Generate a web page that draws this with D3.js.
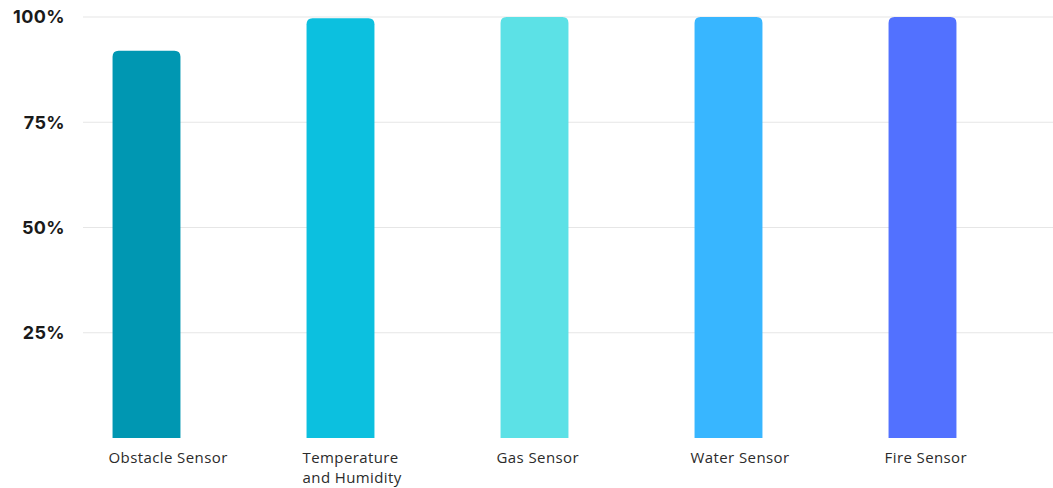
<!DOCTYPE html>
<html>
<head>
<meta charset="utf-8">
<script src="https://cdn.jsdelivr.net/npm/d3@7"></script>
<style>
  html, body { margin: 0; padding: 0; background: #fff; }
  svg { display: block; }
</style>
</head>
<body>
<svg id="chart" width="1053" height="488"></svg>
<script>
// data
const categories = ['Obstacle Sensor', 'Temperature\nand Humidity', 'Gas Sensor', 'Water Sensor', 'Fire Sensor'];
const values = [92, 99.7, 100, 100, 100];
const barColors = ['#0097b2', '#0cc0df', '#5ce1e6', '#38b6ff', '#5271ff'];
const yTicks = [25, 50, 75, 100];

const svg = d3.select('#chart');
const width = 1053;
const marginLeft = 49.5, marginRight = 33.5;
const plotTop = 17, plotBottom = 438;

const x = d3.scaleBand()
    .domain(categories)
    .range([marginLeft, width - marginRight])
    .paddingInner(0.65)
    .paddingOuter(0.325);

const y = d3.scaleLinear()
    .domain([0, 100])
    .range([plotBottom, plotTop]);

// grid lines
svg.append('g')
    .selectAll('line')
    .data(yTicks)
    .join('line')
    .attr('x1', 83)
    .attr('x2', width)
    .attr('y1', d => y(d))
    .attr('y2', d => y(d))
    .attr('stroke', '#e6e6e6')
    .attr('stroke-width', 1.2);

// y axis labels
const yAxis = d3.axisLeft(y).tickValues(yTicks).tickFormat(d => d + '%').tickSize(0).tickPadding(0);
svg.append('g')
    .attr('transform', 'translate(65,0)')
    .call(yAxis)
    .call(g => g.select('.domain').remove())
    .call(g => g.selectAll('text')
        .attr('font-family', 'Inter, "Open Sans", sans-serif')
        .attr('font-size', 18)
        .attr('font-weight', 700)
        .attr('letter-spacing', 0.4)
        .attr('fill', '#1a1a1a'));

// bars with rounded tops
const r = 6;
function barPath(d, i) {
    const x0 = x(categories[i]);
    const w = x.bandwidth();
    const y0 = y(d);
    const y1 = y(0);
    return `M${x0},${y1}V${y0 + r}Q${x0},${y0} ${x0 + r},${y0}` +
        `H${x0 + w - r}Q${x0 + w},${y0} ${x0 + w},${y0 + r}V${y1}Z`;
}

svg.append('g')
    .selectAll('path')
    .data(values)
    .join('path')
    .attr('d', barPath)
    .attr('fill', (d, i) => barColors[i]);

// category labels, left aligned just before each bar
const labels = svg.append('g')
    .selectAll('text')
    .data(categories)
    .join('text')
    .attr('x', d => x(d) - 4)
    .attr('y', 463)
    .attr('font-family', '"Open Sans", sans-serif')
    .attr('font-size', 15)
    .attr('letter-spacing', 0.4)
    .attr('fill', '#2b2b2b');

labels.selectAll('tspan')
    .data(d => d.split('\n').map(t => ({ t, x: x(d) - 4 })))
    .join('tspan')
    .attr('x', d => d.x)
    .attr('dy', (d, i) => i ? 20 : 0)
    .text(d => d.t);
</script>
</body>
</html>
